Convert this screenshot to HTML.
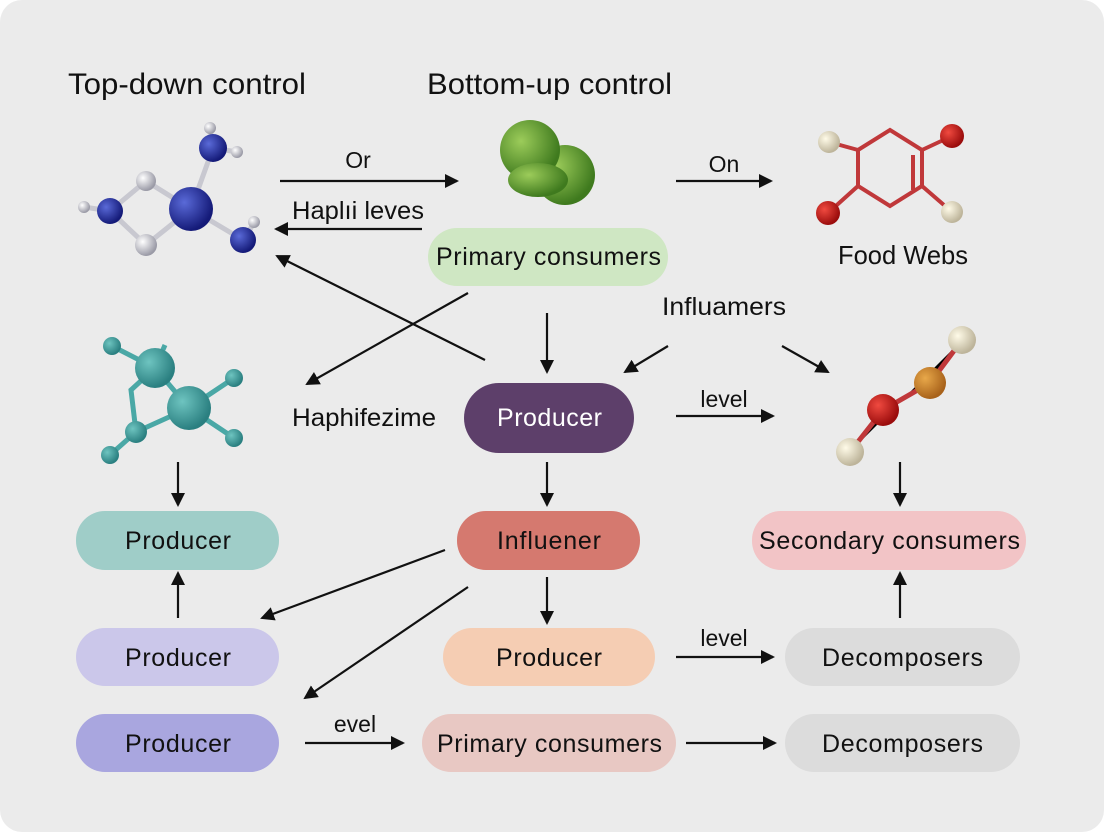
<!DOCTYPE html>
<html><head><meta charset="utf-8"><style>
html,body{margin:0;padding:0;background:#fff}
svg{display:block}
text{font-family:"Liberation Sans",Arial,sans-serif;fill:#111}
</style></head><body>
<svg width="1104" height="832" viewBox="0 0 1104 832" xmlns="http://www.w3.org/2000/svg">
<defs>
<marker id="a" markerWidth="14" markerHeight="14" refX="12" refY="7" orient="auto" markerUnits="userSpaceOnUse" viewBox="0 0 14 14"><path d="M0,0 L14,7 L0,14 z" fill="#111"/></marker>
<radialGradient id="nb" cx="35%" cy="35%" r="65%"><stop offset="0" stop-color="#5a6ad8"/><stop offset="1" stop-color="#141a78"/></radialGradient>
<radialGradient id="wh" cx="35%" cy="35%" r="65%"><stop offset="0" stop-color="#ffffff"/><stop offset="1" stop-color="#9a9aa6"/></radialGradient>
<radialGradient id="gr" cx="35%" cy="35%" r="65%"><stop offset="0" stop-color="#9ccc5a"/><stop offset="1" stop-color="#3f7a1e"/></radialGradient>
<radialGradient id="tl" cx="35%" cy="35%" r="65%"><stop offset="0" stop-color="#6ec4c0"/><stop offset="1" stop-color="#2a7f80"/></radialGradient>
<radialGradient id="rd" cx="35%" cy="35%" r="65%"><stop offset="0" stop-color="#f04a40"/><stop offset="1" stop-color="#9a0c0c"/></radialGradient>
<radialGradient id="or" cx="35%" cy="35%" r="65%"><stop offset="0" stop-color="#e8a84a"/><stop offset="1" stop-color="#a8621a"/></radialGradient>
<radialGradient id="cr" cx="35%" cy="35%" r="65%"><stop offset="0" stop-color="#fffbe8"/><stop offset="1" stop-color="#bdb49a"/></radialGradient>
</defs>
<rect x="0" y="0" width="1104" height="832" rx="22" fill="#ebebeb"/>
<text x="68" y="94" font-size="30" textLength="238" lengthAdjust="spacingAndGlyphs">Top-down control</text>
<text x="427" y="94" font-size="30" textLength="245" lengthAdjust="spacingAndGlyphs">Bottom-up control</text>

<g stroke="#c8c8d0" stroke-width="5" fill="none">
<path d="M110,211 L146,181 L191,209 L146,245 Z"/>
<path d="M191,209 L213,148 M191,209 L243,240 M110,211 L84,207 M213,148 L210,128 M213,148 L237,152 M243,240 L254,223"/>
</g>
<circle cx="210" cy="128" r="6" fill="url(#wh)"/><circle cx="237" cy="152" r="6" fill="url(#wh)"/>
<circle cx="84" cy="207" r="6" fill="url(#wh)"/><circle cx="254" cy="222" r="6" fill="url(#wh)"/>
<circle cx="146" cy="181" r="10" fill="url(#wh)"/><circle cx="146" cy="245" r="11" fill="url(#wh)"/>
<circle cx="213" cy="148" r="14" fill="url(#nb)"/><circle cx="110" cy="211" r="13" fill="url(#nb)"/>
<circle cx="243" cy="240" r="13" fill="url(#nb)"/><circle cx="191" cy="209" r="22" fill="url(#nb)"/>

<circle cx="565" cy="175" r="30" fill="url(#gr)"/>
<circle cx="530" cy="150" r="30" fill="url(#gr)"/>
<ellipse cx="538" cy="180" rx="30" ry="17" fill="url(#gr)"/>

<g stroke="#c0383a" stroke-width="4" fill="none">
<path d="M858,150 L890,130 L922,150 L922,186 L890,206 L858,186 Z"/>
<path d="M913,155 L913,190"/>
<path d="M858,150 L829,142 M922,150 L952,136 M858,186 L828,213 M922,186 L952,212"/>
</g>
<circle cx="829" cy="142" r="11" fill="url(#cr)"/><circle cx="952" cy="136" r="12" fill="url(#rd)"/>
<circle cx="828" cy="213" r="12" fill="url(#rd)"/><circle cx="952" cy="212" r="11" fill="url(#cr)"/>
<text x="838" y="264" font-size="26" textLength="130" lengthAdjust="spacingAndGlyphs">Food Webs</text>

<g stroke="#4aa8a6" stroke-width="5" fill="none">
<path d="M155,368 L189,408 L136,432 L131,390 L155,368"/>
<path d="M155,368 L112,346 M155,368 L165,345 M189,408 L234,378 M189,408 L234,438 M136,432 L110,455"/>
</g>
<circle cx="112" cy="346" r="9" fill="url(#tl)"/><circle cx="234" cy="378" r="9" fill="url(#tl)"/>
<circle cx="234" cy="438" r="9" fill="url(#tl)"/><circle cx="110" cy="455" r="9" fill="url(#tl)"/>
<circle cx="136" cy="432" r="11" fill="url(#tl)"/>
<circle cx="155" cy="368" r="20" fill="url(#tl)"/><circle cx="189" cy="408" r="22" fill="url(#tl)"/>

<g stroke="#c0383a" stroke-width="5"><path d="M850,452 L883,410 L930,383 L962,340"/></g>
<circle cx="962" cy="340" r="14" fill="url(#cr)"/><circle cx="930" cy="383" r="16" fill="url(#or)"/>
<circle cx="883" cy="410" r="16" fill="url(#rd)"/><circle cx="850" cy="452" r="14" fill="url(#cr)"/>

<g font-size="25" lengthAdjust="spacingAndGlyphs">
<rect x="428" y="228" width="240" height="58" rx="29" fill="#cfe7c3"/><text x="436" y="265" textLength="225">Primary consumers</text>
<rect x="464" y="383" width="170" height="70" rx="35" fill="#5d3f6a"/><text x="497" y="426" textLength="105" style="fill:#fff">Producer</text>
<rect x="76" y="511" width="203" height="59" rx="29" fill="#9fcdc8"/><text x="125" y="549" textLength="106">Producer</text>
<rect x="457" y="511" width="183" height="59" rx="29" fill="#d5796f"/><text x="497" y="549" textLength="104">Influener</text>
<rect x="752" y="511" width="274" height="59" rx="29" fill="#f2c4c6"/><text x="759" y="549" textLength="261">Secondary consumers</text>
<rect x="76" y="628" width="203" height="58" rx="29" fill="#cbc7ea"/><text x="125" y="666" textLength="106">Producer</text>
<rect x="443" y="628" width="212" height="58" rx="29" fill="#f5cdb3"/><text x="496" y="666" textLength="106">Producer</text>
<rect x="785" y="628" width="235" height="58" rx="29" fill="#dcdcdc"/><text x="822" y="666" textLength="161">Decomposers</text>
<rect x="76" y="714" width="203" height="58" rx="29" fill="#a9a6df"/><text x="125" y="752" textLength="106">Producer</text>
<rect x="422" y="714" width="254" height="58" rx="29" fill="#e8c8c3"/><text x="437" y="752" textLength="225">Primary consumers</text>
<rect x="785" y="714" width="235" height="58" rx="29" fill="#dcdcdc"/><text x="822" y="752" textLength="161">Decomposers</text>
</g>

<g font-size="23" text-anchor="middle">
<text x="358" y="168">Or</text>
<text x="358" y="219" font-size="25" textLength="132" lengthAdjust="spacingAndGlyphs">Haplıi leves</text>
<text x="724" y="172">On</text>
<text x="724" y="315" font-size="25" textLength="124" lengthAdjust="spacingAndGlyphs">Influamers</text>
<text x="364" y="426" font-size="25" textLength="144" lengthAdjust="spacingAndGlyphs">Haphifezime</text>
<text x="724" y="407">level</text>
<text x="724" y="646">level</text>
<text x="355" y="732">evel</text>
</g>

<g stroke="#111" stroke-width="2.2" marker-end="url(#a)" fill="none">
<line x1="280" y1="181" x2="457" y2="181"/>
<line x1="422" y1="229" x2="276" y2="229"/>
<line x1="676" y1="181" x2="771" y2="181"/>
<line x1="485" y1="360" x2="277" y2="256"/>
<line x1="468" y1="293" x2="307" y2="384"/>
<line x1="547" y1="313" x2="547" y2="372"/>
<line x1="668" y1="346" x2="625" y2="372"/>
<line x1="782" y1="346" x2="828" y2="372"/>
<line x1="676" y1="416" x2="773" y2="416"/>
<line x1="547" y1="462" x2="547" y2="505"/>
<line x1="178" y1="462" x2="178" y2="505"/>
<line x1="900" y1="462" x2="900" y2="505"/>
<line x1="178" y1="618" x2="178" y2="573"/>
<line x1="445" y1="550" x2="262" y2="618"/>
<line x1="468" y1="587" x2="305" y2="698"/>
<line x1="547" y1="577" x2="547" y2="623"/>
<line x1="676" y1="657" x2="773" y2="657"/>
<line x1="900" y1="618" x2="900" y2="573"/>
<line x1="305" y1="743" x2="403" y2="743"/>
<line x1="686" y1="743" x2="775" y2="743"/>
</g>
</svg>
</body></html>
